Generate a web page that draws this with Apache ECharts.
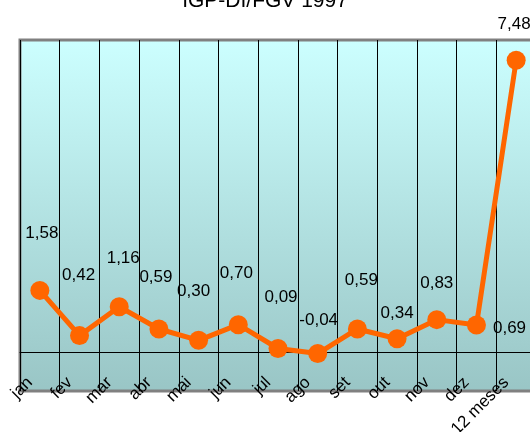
<!DOCTYPE html>
<html>
<head>
<meta charset="utf-8">
<script src="https://cdn.jsdelivr.net/npm/echarts@6/dist/echarts.min.js"></script>
<style>
html,body{margin:0;padding:0;background:#fff;}
#c{width:530px;height:432px;}
</style>
</head>
<body>
<div id="c"></div>
<script>
var titleText = 'IGP-DI/FGV 1997';
var categories = ['jan','fev','mar','abr','mai','jun','jul','ago','set','out','nov','dez','12 meses'];
var values = [1.58, 0.42, 1.16, 0.59, 0.30, 0.70, 0.09, -0.04, 0.59, 0.34, 0.83, 0.69, 7.48];

// label placement style (relative shifts from default 'top' position), not data
var labelShift = [[2,-34],[-1,-37],[4,-25],[-3,-29],[-5,-26],[-2,-28],[3,-28],[1,-10],[4,-26],[0,-2],[0,-13],null,[-2,-13]];

var chart = echarts.init(document.getElementById('c'));
var seriesData = values.map(function (v, i) {
  var item = { value: v };
  if (labelShift[i]) {
    item.label = { position: 'top', offset: labelShift[i] };
  } else {
    item.label = { position: 'right', distance: 7, offset: [0, 3] };
  }
  return item;
});

chart.setOption({
  animation: false,
  title: {
    text: titleText,
    left: 'center',
    top: -14,
    textStyle: { fontFamily: 'Liberation Sans, Arial, sans-serif', fontSize: 21, fontWeight: 'normal', color: '#000' }
  },
  grid: {
    left: 20, top: 40, width: 516, bottom: 41,
    outerBoundsMode: 'none',
    containLabel: false,
    show: true,
    borderColor: '#808080',
    borderWidth: 3,
    backgroundColor: new echarts.graphic.LinearGradient(0, 0, 0, 1, [
      { offset: 0, color: '#CCFFFF' },
      { offset: 1, color: '#99C5C5' }
    ])
  },
  xAxis: {
    type: 'category',
    data: categories,
    boundaryGap: true,
    axisLine: { show: true, onZero: true, lineStyle: { color: '#000', width: 1 } },
    axisTick: { show: false },
    splitLine: { show: true, lineStyle: { color: '#000', width: 1 } },
    axisLabel: {
      rotate: 45,
      margin: -21,
      padding: [0, 14, 0, 0],
      interval: 0,
      fontFamily: 'Liberation Sans, Arial, sans-serif',
      fontSize: 17,
      color: '#000'
    }
  },
  yAxis: {
    type: 'value',
    min: -1,
    max: 8,
    show: false,
    splitLine: { show: false }
  },
  series: [{
    type: 'line',
    data: seriesData,
    symbol: 'circle',
    symbolSize: 19,
    lineStyle: { color: '#FF6600', width: 5 },
    itemStyle: { color: '#FF6600' },
    label: {
      show: true,
      fontFamily: 'Liberation Sans, Arial, sans-serif',
      fontSize: 17,
      color: '#000',
      formatter: function (p) { return p.value.toFixed(2).replace('.', ','); }
    }
  }]
});
</script>
</body>
</html>
